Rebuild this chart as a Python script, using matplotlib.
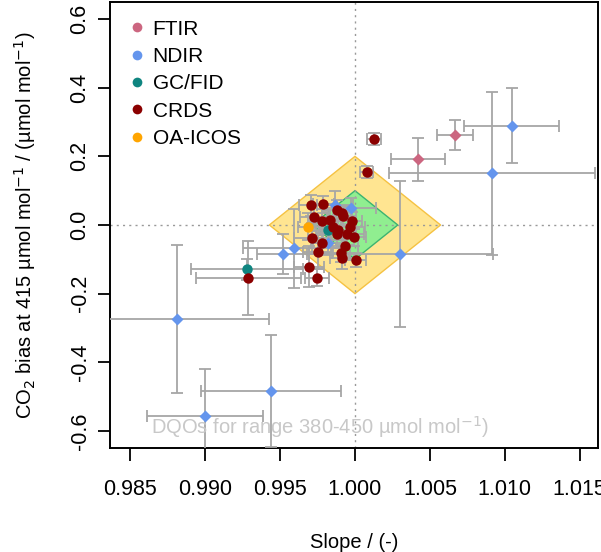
import numpy as np
import matplotlib.pyplot as plt
from matplotlib.patches import Polygon
from matplotlib.lines import Line2D

plt.rcParams['font.family'] = ['Liberation Sans', 'DejaVu Sans']

# slope, bias at 415, and their uncertainties for each technique
ftir_slope = [1.00419, 1.00668]
ftir_bias = [0.192, 0.262]
ftir_slope_u = [0.0018, 0.0012]
ftir_bias_u = [0.063, 0.043]

ndir_slope = [1.01046, 1.00917, 1.0030, 0.98810, 0.99439, 0.9900,
              0.99521, 0.99593, 0.99822, 0.99866, 0.99971]
ndir_bias = [0.289, 0.151, -0.0845, -0.274, -0.483, -0.556,
             -0.0845, -0.068, -0.052, 0.058, 0.049]
ndir_slope_u = [0.00316, 0.00688, 0.0062, 0.00616, 0.00465, 0.00388,
                0.00174, 0.0034, 0.0010, 0.0012, 0.0017]
ndir_bias_u = [0.109, 0.238, 0.213, 0.215, 0.163, 0.137,
               0.058, 0.115, 0.035, 0.04, 0.03]

gc_slope = [0.99281, 0.9982]
gc_bias = [-0.129, -0.015]
gc_slope_u = [0.00374, 0.0008]
gc_bias_u = [0.03, 0.03]

crds_slope = [1.00127, 1.00078, 0.99288, 0.99706, 0.99788, 0.99726, 0.99882,
              0.99913, 0.99780, 0.99833, 0.99978, 0.99967, 0.99855, 0.99878,
              0.99949, 0.99995, 0.99711, 0.99778, 0.99755, 0.99933, 0.99905,
              0.99911, 1.00005, 0.99693, 0.99744, 0.99887, 0.99920]
crds_bias = [0.250, 0.154, -0.154, 0.057, 0.060, 0.022, 0.044,
             0.034, 0.012, 0.015, 0.012, -0.007, -0.007, -0.027,
             -0.027, -0.036, -0.039, -0.053, -0.078, -0.061, -0.083,
             -0.097, -0.102, -0.122, -0.154, -0.015, 0.026]
crds_slope_u = [0.00045, 0.00043, 0.0035, 0.0008, 0.0007, 0.0009, 0.0010,
                0.0006, 0.0008, 0.0012, 0.0007, 0.0010, 0.0006, 0.0009,
                0.0011, 0.0008, 0.0012, 0.0007, 0.0010, 0.0009, 0.0006,
                0.0008, 0.0007, 0.0010, 0.0008, 0.0012, 0.0009]
crds_bias_u = [0.017, 0.017, 0.108, 0.03, 0.025, 0.04, 0.03,
               0.02, 0.035, 0.03, 0.025, 0.03, 0.02, 0.04,
               0.03, 0.025, 0.045, 0.03, 0.05, 0.03, 0.025,
               0.03, 0.02, 0.06, 0.025, 0.03, 0.03]

oa_slope = [0.99688]
oa_bias = [-0.005]
oa_slope_u = [0.0007]
oa_bias_u = [0.04]

# DQO half-widths (bias at 380 and 450 within +-d)
dqo_ext = 0.2
dqo_wmo = 0.1
half_range = 35

fig = plt.figure(figsize=(6.01, 5.52), dpi=100)
ax = fig.add_axes((0.183, 0.1884, 0.812, 0.808))

for d, fc, ec in [(dqo_ext, '#FFE591', '#F5C242'), (dqo_wmo, '#90EE90', '#3CB371')]:
    s = d / half_range
    ax.add_patch(Polygon([(1 - s, 0), (1, d), (1 + s, 0), (1, -d)],
                         closed=True, facecolor=fc, edgecolor=ec, lw=1, zorder=1))

ax.axvline(1.0, color='#999999', ls=(0, (1.5, 3)), lw=1, zorder=2)
ax.axhline(0.0, color='#999999', ls=(0, (1.5, 3)), lw=1, zorder=2)

series = [
    ('FTIR', ftir_slope, ftir_bias, ftir_slope_u, ftir_bias_u, '#CC6680', 'D'),
    ('NDIR', ndir_slope, ndir_bias, ndir_slope_u, ndir_bias_u, '#6495ED', 'D'),
    ('GC/FID', gc_slope, gc_bias, gc_slope_u, gc_bias_u, '#0F8580', 'o'),
    ('CRDS', crds_slope, crds_bias, crds_slope_u, crds_bias_u, '#8B0000', 'o'),
    ('OA-ICOS', oa_slope, oa_bias, oa_slope_u, oa_bias_u, '#FFA500', 'o'),
]

for name, x, y, xu, yu, col, mk in series:
    ax.errorbar(x, y, xerr=xu, yerr=yu, fmt='none', ecolor='#A6A6A6',
                elinewidth=1.3, capsize=4.2, capthick=1.3, zorder=3)

handles = []
for name, x, y, xu, yu, col, mk in series:
    ax.plot(x, y, ls='none', marker=mk, color=col, ms=7.5 if mk == 'o' else 6,
            mec='none', zorder=4)
    handles.append(Line2D([], [], ls='none', marker='o', color=col, ms=7, mec='none'))

ax.legend(handles, [s[0] for s in series], loc='upper left', frameon=False,
          fontsize=15, handletextpad=0.3, labelspacing=0.4,
          borderaxespad=0.3, borderpad=0.55, handlelength=0.9)

ax.text(0.98641, -0.588, 'DQOs for range 380-450 µmol mol$^{-1}$)',
        color='#C8C8C8', fontsize=14.5, va='center', ha='left', zorder=5)

ax.set_xlim(0.98365, 1.01622)
ax.set_ylim(-0.65, 0.65)
ax.set_xticks([0.985, 0.990, 0.995, 1.000, 1.005, 1.010, 1.015])
ax.set_xticklabels(['0.985', '0.990', '0.995', '1.000', '1.005', '1.010', '1.015'])
ax.set_yticks([-0.6, -0.4, -0.2, 0.0, 0.2, 0.4, 0.6])
ax.set_yticklabels(['-0.6', '-0.4', '-0.2', '0.0', '0.2', '0.4', '0.6'],
                   rotation=90, va='center')
ax.tick_params(direction='out', length=9, width=1.3, labelsize=15.5)
ax.tick_params(axis='x', pad=13)
ax.tick_params(axis='y', pad=5)
for sp in ax.spines.values():
    sp.set_linewidth(1.4)

ax.set_xlabel('Slope / (-)', fontsize=14.5, labelpad=24)
ax.set_ylabel('CO$_2$ bias at 415 µmol mol$^{-1}$ / (µmol mol$^{-1}$)',
              fontsize=14.5, labelpad=23)

fig.savefig('out.png', dpi=100)
